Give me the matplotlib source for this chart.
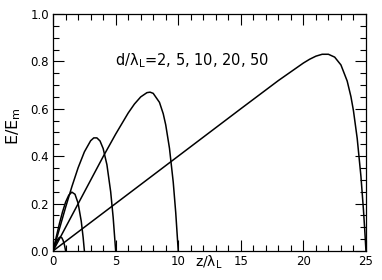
import matplotlib
matplotlib.use("Agg")
import matplotlib.pyplot as plt
from matplotlib.ticker import MultipleLocator, FormatStrFormatter

# d/lambda_L values, one curve each (z runs 0 .. d/2)
d_values = [2, 5, 10, 20, 50]

z_d2 = [0, 0.1, 0.2, 0.3, 0.4, 0.5, 0.6, 0.7, 0.8, 0.9, 1.0]
e_d2 = [0, 0.015, 0.029, 0.041, 0.050, 0.057, 0.058, 0.055, 0.044, 0.027, 0]

z_d5 = [0, 0.25, 0.5, 0.75, 1.0, 1.25, 1.5, 1.75, 2.0, 2.25, 2.4, 2.5]
e_d5 = [0, 0.058, 0.114, 0.164, 0.206, 0.235, 0.248, 0.239, 0.201, 0.125, 0.057, 0]

z_d10 = [0, 1.0, 1.5, 2.0, 2.5, 3.0, 3.25, 3.5, 3.75, 4.0, 4.3, 4.6, 4.8, 5.0]
e_d10 = [0, 0.184, 0.271, 0.351, 0.418, 0.465, 0.477, 0.477, 0.464, 0.432, 0.364, 0.250, 0.141, 0]

z_d20 = [0, 4.0, 5.0, 6.0, 6.5, 7.0, 7.5, 7.75, 8.0, 8.5, 8.8, 9.0, 9.3, 9.6, 9.8, 10.0]
e_d20 = [0, 0.398, 0.493, 0.582, 0.620, 0.650, 0.668, 0.670, 0.665, 0.627, 0.579, 0.532, 0.433, 0.290, 0.161, 0]

z_d50 = [0, 10, 15, 18, 20, 20.5, 21, 21.5, 22, 22.5, 23, 23.5, 23.8, 24, 24.3, 24.6, 24.8, 24.9, 25]
e_d50 = [0, 0.400, 0.600, 0.719, 0.793, 0.809, 0.822, 0.830, 0.830, 0.818, 0.785, 0.717, 0.651,
         0.592, 0.475, 0.314, 0.173, 0.091, 0]

curves = [(z_d2, e_d2), (z_d5, e_d5), (z_d10, e_d10), (z_d20, e_d20), (z_d50, e_d50)]

plt.rcParams["font.family"] = ["DejaVu Sans"]

fig = plt.figure(figsize=(3.82, 2.80), dpi=100)
ax = fig.add_axes([0.139, 0.104, 0.819, 0.846])

for z, e in curves:
    ax.plot(z, e, color="black", lw=1.1)

ax.set_xlim(0, 25)
ax.set_ylim(0, 1.0)
ax.xaxis.set_major_locator(MultipleLocator(5))
ax.xaxis.set_minor_locator(MultipleLocator(1))
ax.yaxis.set_major_locator(MultipleLocator(0.2))
ax.yaxis.set_minor_locator(MultipleLocator(0.05))
ax.yaxis.set_major_formatter(FormatStrFormatter("%.1f"))
ax.tick_params(which="both", direction="in", top=True, right=True, labelsize=8.5, width=0.8)
ax.tick_params(which="major", length=8, pad=3)
ax.tick_params(which="minor", length=4)
for s in ax.spines.values():
    s.set_linewidth(0.9)

ax.set_xlabel(r"z/$\mathrm{\lambda}_{\rm L}$", fontsize=10)
ax.xaxis.set_label_coords(0.498, -0.012)
ax.set_ylabel(r"E/E$_{\rm m}$", fontsize=11.5)
ax.yaxis.set_label_coords(-0.096, 0.525)

label = "d/$\\mathrm{\\lambda}_{\\rm L}$=" + ", ".join(str(d) for d in d_values)
ax.text(4.95, 0.805, label, fontsize=10.5, va="center", ha="left")

fig.savefig("out.png", dpi=100)
